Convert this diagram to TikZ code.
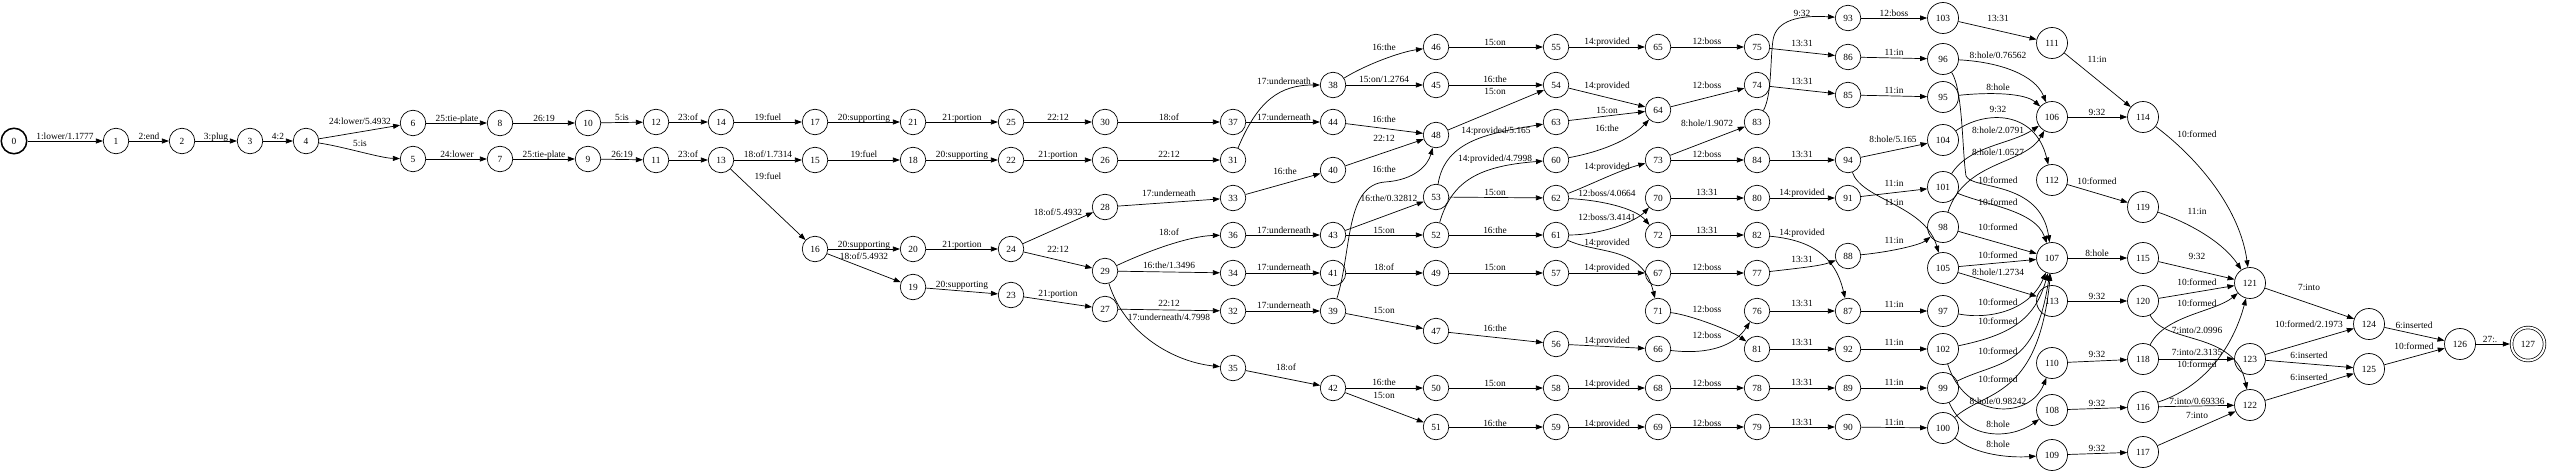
\documentclass[tikz,border=0pt]{standalone}
\usepackage{fontspec}
\setmainfont{Liberation Serif}
\usetikzlibrary{arrows.meta}
\newcommand\lblfont{\fontsize{9.4}{11}\selectfont}
\newcommand\ed[5]{\draw[ar] (#1) -- (#2); \node[el] at (#3,#4) {#5};}
\newcommand\lab[3]{\node[el] at (#1,#2) {#3};}
\begin{document}
\begin{tikzpicture}[x=1pt,y=-1pt,
 st/.style={circle,draw,line width=0.7pt,minimum size=25.5pt,inner sep=0pt,font=\lblfont},
 stw/.style={st,minimum size=31pt},
 el/.style={font=\lblfont,inner sep=0pt,text height=6.6pt,text depth=2pt},
 ar/.style={-{Triangle[length=7pt,width=5pt]},line width=0.7pt}]
\useasboundingbox (0,0) rectangle (2550,473);
% nodes
\node[st,line width=1.5pt] (n0) at (14,141) {0};
\node[st] (n1) at (116,141) {1};
\node[st] (n2) at (182,141) {2};
\node[st] (n3) at (250,141) {3};
\node[st] (n4) at (306,141) {4};
\node[st] (n5) at (413,159) {5};
\node[st] (n6) at (413,123) {6};
\node[st] (n7) at (500,159) {7};
\node[st] (n8) at (500,123) {8};
\node[st] (n9) at (588,159) {9};
\node[st] (n10) at (588,123) {10};
\node[st] (n11) at (656,160) {11};
\node[st] (n12) at (656,122) {12};
\node[st] (n13) at (721,160) {13};
\node[st] (n14) at (721,122) {14};
\node[st] (n15) at (815,160) {15};
\node[st] (n16) at (815,249) {16};
\node[st] (n17) at (815,122) {17};
\node[st] (n18) at (913,160) {18};
\node[st] (n19) at (913,287) {19};
\node[st] (n20) at (913,249) {20};
\node[st] (n21) at (913,122) {21};
\node[st] (n22) at (1011,160) {22};
\node[st] (n23) at (1011,295) {23};
\node[st] (n24) at (1011,249) {24};
\node[st] (n25) at (1011,122) {25};
\node[st] (n26) at (1105,160) {26};
\node[st] (n27) at (1105,309) {27};
\node[st] (n28) at (1105,207) {28};
\node[st] (n29) at (1105,271) {29};
\node[st] (n30) at (1105,122) {30};
\node[st] (n31) at (1233,160) {31};
\node[st] (n32) at (1233,311) {32};
\node[st] (n33) at (1233,198) {33};
\node[st] (n34) at (1233,273) {34};
\node[st] (n35) at (1233,368) {35};
\node[st] (n36) at (1233,235) {36};
\node[st] (n37) at (1233,122) {37};
\node[st] (n38) at (1333,85) {38};
\node[st] (n39) at (1333,311) {39};
\node[st] (n40) at (1333,170) {40};
\node[st] (n41) at (1333,273) {41};
\node[st] (n42) at (1333,388) {42};
\node[st] (n43) at (1333,235) {43};
\node[st] (n44) at (1333,122) {44};
\node[st] (n45) at (1436,85) {45};
\node[st] (n46) at (1436,47) {46};
\node[st] (n47) at (1436,331) {47};
\node[st] (n48) at (1436,135) {48};
\node[st] (n49) at (1436,273) {49};
\node[st] (n50) at (1436,388) {50};
\node[st] (n51) at (1436,427) {51};
\node[st] (n52) at (1436,235) {52};
\node[st] (n53) at (1436,197) {53};
\node[st] (n54) at (1556,85) {54};
\node[st] (n55) at (1556,47) {55};
\node[st] (n56) at (1556,344) {56};
\node[st] (n57) at (1556,273) {57};
\node[st] (n58) at (1556,388) {58};
\node[st] (n59) at (1556,427) {59};
\node[st] (n60) at (1556,160) {60};
\node[st] (n61) at (1556,235) {61};
\node[st] (n62) at (1556,198) {62};
\node[st] (n63) at (1556,122) {63};
\node[st] (n64) at (1658,110) {64};
\node[st] (n65) at (1658,47) {65};
\node[st] (n66) at (1658,349) {66};
\node[st] (n67) at (1658,273) {67};
\node[st] (n68) at (1658,388) {68};
\node[st] (n69) at (1658,427) {69};
\node[st] (n70) at (1658,198) {70};
\node[st] (n71) at (1658,311) {71};
\node[st] (n72) at (1658,235) {72};
\node[st] (n73) at (1658,160) {73};
\node[st] (n74) at (1757,85) {74};
\node[st] (n75) at (1757,47) {75};
\node[st] (n76) at (1757,311) {76};
\node[st] (n77) at (1757,273) {77};
\node[st] (n78) at (1757,388) {78};
\node[st] (n79) at (1757,427) {79};
\node[st] (n80) at (1757,198) {80};
\node[st] (n81) at (1757,349) {81};
\node[st] (n82) at (1757,235) {82};
\node[st] (n83) at (1757,122) {83};
\node[st] (n84) at (1757,160) {84};
\node[st] (n85) at (1848,95) {85};
\node[st] (n86) at (1848,57) {86};
\node[st] (n87) at (1848,311) {87};
\node[st] (n88) at (1848,256) {88};
\node[st] (n89) at (1848,388) {89};
\node[st] (n90) at (1848,427) {90};
\node[st] (n91) at (1848,198) {91};
\node[st] (n92) at (1848,349) {92};
\node[st] (n93) at (1848,18) {93};
\node[st] (n94) at (1848,160) {94};
\node[stw] (n95) at (1943,97) {95};
\node[stw] (n96) at (1943,59) {96};
\node[stw] (n97) at (1943,311) {97};
\node[stw] (n98) at (1943,227) {98};
\node[stw] (n99) at (1943,388) {99};
\node[stw] (n100) at (1943,428) {100};
\node[stw] (n101) at (1943,187) {101};
\node[stw] (n102) at (1943,349) {102};
\node[stw] (n103) at (1943,18) {103};
\node[stw] (n104) at (1943,140) {104};
\node[stw] (n105) at (1943,268) {105};
\node[stw] (n106) at (2052,117) {106};
\node[stw] (n107) at (2052,258) {107};
\node[stw] (n108) at (2052,410) {108};
\node[stw] (n109) at (2052,455) {109};
\node[stw] (n110) at (2052,363) {110};
\node[stw] (n111) at (2052,43) {111};
\node[stw] (n112) at (2052,180) {112};
\node[stw] (n113) at (2052,301) {113};
\node[stw] (n114) at (2143,117) {114};
\node[stw] (n115) at (2143,258) {115};
\node[stw] (n116) at (2143,407) {116};
\node[stw] (n117) at (2143,452) {117};
\node[stw] (n118) at (2143,359) {118};
\node[stw] (n119) at (2143,207) {119};
\node[stw] (n120) at (2143,301) {120};
\node[stw] (n121) at (2250,283) {121};
\node[stw] (n122) at (2250,405) {122};
\node[stw] (n123) at (2250,359) {123};
\node[stw] (n124) at (2369,324) {124};
\node[stw] (n125) at (2369,369) {125};
\node[stw] (n126) at (2460,344) {126};
\node[st,minimum size=33pt,double,double distance=2pt,outer sep=1.7pt] (n127) at (2528,344) {127};
% edges: first part
\ed{n0}{n1}{65}{137}{1:lower/1.1777}
\ed{n1}{n2}{149}{137}{2:end}
\ed{n2}{n3}{216}{137}{3:plug}
\ed{n3}{n4}{278}{137}{4:2}
\ed{n4}{n6}{360}{122}{24:lower/5.4932}
\draw[ar] (n4) .. controls (345,147) and (380,158) .. (n5); \lab{360}{144}{5:is}
\ed{n6}{n8}{457}{119}{25:tie-plate}
\ed{n5}{n7}{457}{155}{24:lower}
\ed{n8}{n10}{544}{119}{26:19}
\ed{n7}{n9}{544}{155}{25:tie-plate}
\ed{n10}{n12}{622}{118}{5:is}
\ed{n9}{n11}{622}{155}{26:19}
\ed{n12}{n14}{688}{118}{23:of}
\ed{n11}{n13}{688}{155}{23:of}
\ed{n14}{n17}{768}{118}{19:fuel}
\ed{n13}{n15}{768}{155}{18:of/1.7314}
\ed{n13}{n16}{768}{177}{19:fuel}
\ed{n17}{n21}{864}{118}{20:supporting}
\ed{n15}{n18}{864}{155}{19:fuel}
\ed{n16}{n20}{864}{245}{20:supporting}
\ed{n16}{n19}{864}{257}{18:of/5.4932}
\ed{n21}{n25}{962}{118}{21:portion}
\ed{n18}{n22}{962}{155}{20:supporting}
\ed{n20}{n24}{962}{245}{21:portion}
\ed{n19}{n23}{962}{285}{20:supporting}
\ed{n25}{n30}{1058}{118}{22:12}
\ed{n22}{n26}{1058}{155}{21:portion}
\ed{n24}{n28}{1058}{213}{18:of/5.4932}
\ed{n24}{n29}{1058}{250}{22:12}
\ed{n23}{n27}{1058}{294}{21:portion}
\ed{n30}{n37}{1169}{118}{18:of}
\ed{n26}{n31}{1169}{155}{22:12}
\ed{n28}{n33}{1169}{194}{17:underneath}
\draw[ar] (n29) .. controls (1150,250) and (1190,236) .. (n36); \lab{1169}{233}{18:of}
\ed{n29}{n34}{1169}{266}{16:the/1.3496}
\ed{n27}{n32}{1169}{304}{22:12}
\draw[ar] (n29) .. controls (1125,335) and (1175,362) .. (n35); \lab{1169}{318}{17:underneath/4.7998}
\draw[ar] (n31) .. controls (1258,100) and (1280,85) .. (n38); \lab{1284}{82}{17:underneath}
\ed{n37}{n44}{1284}{118}{17:underneath}
\ed{n33}{n40}{1285}{172}{16:the}
\ed{n36}{n43}{1284}{231}{17:underneath}
\ed{n34}{n41}{1284}{268}{17:underneath}
\ed{n32}{n39}{1284}{306}{17:underneath}
\ed{n35}{n42}{1286}{368}{18:of}
% middle
\draw[ar] (n38) .. controls (1365,65) and (1400,52) .. (n46); \lab{1384}{48}{16:the}
\ed{n38}{n45}{1384}{80}{15:on/1.2764}
\ed{n44}{n48}{1384}{120}{16:the}
\ed{n40}{n48}{1384}{139}{22:12}
\draw[ar] (n39) .. controls (1352,250) and (1345,185) .. (1385,182) .. controls (1415,180) and (1428,165) .. (n48); \lab{1384}{170}{16:the}
\ed{n43}{n53}{1389}{199}{16:the/0.32812}
\ed{n43}{n52}{1384}{231}{15:on}
\ed{n41}{n49}{1384}{268}{18:of}
\ed{n39}{n47}{1384}{311}{15:on}
\ed{n42}{n50}{1384}{383}{16:the}
\ed{n42}{n51}{1384}{396}{15:on}
\ed{n46}{n55}{1495}{43}{15:on}
\ed{n45}{n54}{1495}{80}{16:the}
\ed{n48}{n54}{1495}{92}{15:on}
\draw[ar] (n53) .. controls (1445,140) and (1490,133) .. (n63); \lab{1496}{131}{14:provided/5.165}
\draw[ar] (n52) .. controls (1452,180) and (1480,166) .. (n60); \lab{1495}{159}{14:provided/4.7998}
\ed{n53}{n62}{1495}{193}{15:on}
\ed{n52}{n61}{1495}{231}{16:the}
\ed{n49}{n57}{1495}{268}{15:on}
\ed{n47}{n56}{1495}{329}{16:the}
\ed{n50}{n58}{1495}{384}{15:on}
\ed{n51}{n59}{1495}{424}{16:the}
\ed{n55}{n65}{1607}{42}{14:provided}
\ed{n54}{n64}{1607}{86}{14:provided}
\ed{n63}{n64}{1607}{111}{15:on}
\draw[ar] (n60) .. controls (1600,152) and (1630,140) .. (n64); \lab{1607}{129}{16:the}
\draw[ar] (n62) .. controls (1590,185) and (1620,170) .. (n73); \lab{1607}{167}{14:provided}
\draw[ar] (n62) .. controls (1600,200) and (1635,208) .. (n72); \lab{1607}{194}{12:boss/4.0664}
\draw[ar] (n61) .. controls (1600,235) and (1635,222) .. (n70); \lab{1607}{218}{12:boss/3.4141}
\draw[ar] (n61) .. controls (1600,255) and (1642,245) .. (n71); \lab{1607}{243}{14:provided}
\ed{n57}{n67}{1607}{268}{14:provided}
\ed{n56}{n66}{1607}{341}{14:provided}
\ed{n58}{n68}{1607}{384}{14:provided}
\ed{n59}{n69}{1607}{424}{14:provided}
\ed{n65}{n75}{1707}{42}{12:boss}
\ed{n64}{n74}{1707}{86}{12:boss}
\ed{n73}{n83}{1707}{124}{8:hole/1.9072}
\ed{n73}{n84}{1707}{155}{12:boss}
\ed{n70}{n80}{1707}{193}{13:31}
\ed{n72}{n82}{1707}{231}{13:31}
\ed{n67}{n77}{1707}{268}{12:boss}
\draw[ar] (n71) .. controls (1690,315) and (1730,330) .. (n81); \lab{1707}{310}{12:boss}
\draw[ar] (n66) .. controls (1710,355) and (1735,345) .. (n76); \lab{1707}{336}{12:boss}
\ed{n68}{n78}{1707}{384}{12:boss}
\ed{n69}{n79}{1707}{424}{12:boss}
\draw[ar] (n83) .. controls (1772,95) and (1770,60) .. (1773,40) .. controls (1776,20) and (1800,15) .. (n93); \lab{1802}{14}{9:32}
\ed{n75}{n86}{1802}{44}{13:31}
\ed{n74}{n85}{1802}{82}{13:31}
\ed{n84}{n94}{1802}{155}{13:31}
\ed{n80}{n91}{1802}{193}{14:provided}
\draw[ar] (n82) .. controls (1810,240) and (1835,255) .. (n87); \lab{1802}{233}{14:provided}
\draw[ar] (n77) .. controls (1800,268) and (1820,266) .. (n88); \lab{1802}{260}{13:31}
\ed{n76}{n87}{1802}{304}{13:31}
\ed{n81}{n92}{1802}{343}{13:31}
\ed{n78}{n89}{1802}{383}{13:31}
\ed{n79}{n90}{1802}{423}{13:31}
% right part
\ed{n93}{n103}{1894}{14}{12:boss}
\ed{n86}{n96}{1894}{53}{11:in}
\ed{n85}{n95}{1894}{91}{11:in}
\ed{n94}{n104}{1893}{140}{8:hole/5.165}
\ed{n91}{n101}{1894}{184}{11:in}
\draw[ar] (n94) .. controls (1862,200) and (1925,205) .. (n105); \lab{1894}{203}{11:in}
\draw[ar] (n88) .. controls (1890,252) and (1920,245) .. (n98); \lab{1894}{241}{11:in}
\ed{n87}{n97}{1894}{305}{11:in}
\ed{n92}{n102}{1894}{343}{11:in}
\ed{n89}{n99}{1894}{383}{11:in}
\ed{n90}{n100}{1894}{423}{11:in}
\ed{n103}{n111}{1998}{19}{13:31}
\draw[ar] (n96) .. controls (2000,62) and (2035,75) .. (n106); \lab{1998}{56}{8:hole/0.76562}
\draw[ar] (n95) .. controls (1990,92) and (2025,93) .. (n106); \lab{1998}{88}{8:hole}
\draw[ar] (n104) .. controls (1985,110) and (2035,110) .. (n112); \lab{1998}{110}{9:32}
\draw[ar] (n101) .. controls (1970,145) and (2010,145) .. (n106); \lab{1998}{131}{8:hole/2.0791}
\draw[ar] (n98) .. controls (1965,160) and (2025,165) .. (n106); \lab{1998}{153}{8:hole/1.0527}
\draw[ar] (n96) .. controls (1963,90) and (1962,150) .. (1966,176) .. controls (1972,190) and (2040,180) .. (n107); \lab{1998}{181}{10:formed}
\draw[ar] (n101) .. controls (1985,205) and (2035,210) .. (n107); \lab{1998}{203}{10:formed}
\ed{n98}{n107}{1998}{228}{10:formed}
\ed{n105}{n107}{1998}{256}{10:formed}
\ed{n105}{n113}{1998}{273}{8:hole/1.2734}
\draw[ar] (n97) .. controls (1990,320) and (2030,310) .. (n107); \lab{1998}{303}{10:formed}
\draw[ar] (n102) .. controls (2010,335) and (2035,320) .. (n107); \lab{1998}{322}{10:formed}
\draw[ar] (n99) .. controls (2000,360) and (2035,370) .. (n107); \lab{1998}{352}{10:formed}
\draw[ar] (n100) .. controls (1985,390) and (2038,400) .. (n107); \lab{1998}{380}{10:formed}
\draw[ar] (n102) .. controls (1965,420) and (2030,420) .. (n110); \lab{1998}{402}{8:hole/0.98242}
\draw[ar] (n99) .. controls (1965,440) and (2010,440) .. (n108); \lab{1998}{425}{8:hole}
\draw[ar] (n100) .. controls (1975,455) and (2010,458) .. (n109); \lab{1998}{445}{8:hole}
\ed{n111}{n114}{2097}{60}{11:in}
\ed{n106}{n114}{2097}{113}{9:32}
\ed{n112}{n119}{2097}{182}{10:formed}
\ed{n107}{n115}{2097}{254}{8:hole}
\ed{n113}{n120}{2097}{297}{9:32}
\ed{n110}{n118}{2097}{355}{9:32}
\ed{n108}{n116}{2097}{404}{9:32}
\ed{n109}{n117}{2097}{449}{9:32}
\draw[ar] (n114) .. controls (2200,160) and (2240,210) .. (n121); \lab{2197}{135}{10:formed}
\draw[ar] (n119) .. controls (2195,225) and (2225,245) .. (n121); \lab{2197}{212}{11:in}
\ed{n115}{n121}{2197}{257}{9:32}
\ed{n120}{n121}{2197}{283}{10:formed}
\draw[ar] (n118) .. controls (2165,315) and (2215,312) .. (n121); \lab{2197}{304}{10:formed}
\draw[ar] (n120) .. controls (2165,345) and (2235,330) .. (n122); \lab{2197}{331}{7:into/2.0996}
\ed{n118}{n123}{2197}{353}{7:into/2.3135}
\draw[ar] (n116) .. controls (2210,385) and (2235,340) .. (n121); \lab{2197}{365}{10:formed}
\ed{n116}{n122}{2197}{402}{7:into/0.69336}
\ed{n117}{n122}{2197}{416}{7:into}
\ed{n121}{n124}{2309}{288}{7:into}
\ed{n123}{n124}{2309}{325}{10:formed/2.1973}
\ed{n123}{n125}{2309}{356}{6:inserted}
\ed{n122}{n125}{2309}{378}{6:inserted}
\ed{n124}{n126}{2414}{326}{6:inserted}
\ed{n125}{n126}{2414}{347}{10:formed}
\ed{n126}{n127}{2490}{340}{27:.}
\end{tikzpicture}
\end{document}
